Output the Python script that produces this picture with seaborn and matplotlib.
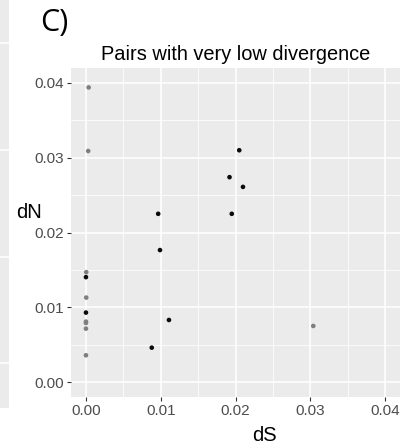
import matplotlib
matplotlib.use("Agg")
import matplotlib.pyplot as plt
import seaborn as sns
import pandas as pd
from matplotlib.patches import Rectangle
from matplotlib.lines import Line2D

# ---- data ----
ds = [0.00036, 0.00030, 0.00004, 0.00004, 0.00000, 0.00000, 0.00000, 0.00000, 0.03040,
      0.00000, 0.00000, 0.00966, 0.00990, 0.01110, 0.00880, 0.02050, 0.01920, 0.02100, 0.01950]
dn = [0.03940, 0.03090, 0.01470, 0.01130, 0.00808, 0.00790, 0.00714, 0.00358, 0.00750,
      0.01403, 0.00929, 0.02250, 0.01765, 0.00830, 0.00460, 0.03100, 0.02740, 0.02610, 0.02250]
shade = ["light"] * 9 + ["dark"] * 10

x_ticks = [0.00, 0.01, 0.02, 0.03, 0.04]
y_ticks = [0.00, 0.01, 0.02, 0.03, 0.04]
tick_labels = ["0.00", "0.01", "0.02", "0.03", "0.04"]

df = pd.DataFrame({"dS": ds, "dN": dn, "shade": shade})

W, H = 417, 448
fig = plt.figure(figsize=(W / 100, H / 100), dpi=100)
fig.patch.set_facecolor("white")

# strip of the neighbouring panel at the left edge
fig.add_artist(Rectangle((0, 1 - 408 / H), 9 / W, 408 / H, transform=fig.transFigure,
                         facecolor="#EBEBEB", edgecolor="none"))
for yy in [43, 150, 257, 363]:
    fig.add_artist(Line2D([0, 9 / W], [1 - yy / H, 1 - yy / H], transform=fig.transFigure,
                          color="white", lw=1.1))

ax = fig.add_axes([71 / W, 1 - 397 / H, 329 / W, 329 / H])
ax.set_facecolor("#EBEBEB")
for s in ax.spines.values():
    s.set_visible(False)

ax.set_xlim(-0.002, 0.042)
ax.set_ylim(-0.002, 0.042)
ax.set_xticks(x_ticks)
ax.set_yticks(y_ticks)
ax.set_xticklabels(tick_labels)
ax.set_yticklabels(tick_labels)
minor = [0.005, 0.015, 0.025, 0.035]
ax.set_xticks(minor, minor=True)
ax.set_yticks(minor, minor=True)
ax.grid(True, which="major", color="white", lw=1.1)
ax.grid(True, which="minor", color="white", lw=0.55)
ax.set_axisbelow(True)
ax.tick_params(axis="both", which="major", length=3, width=0.8, color="#333333",
               labelcolor="#4D4D4D", labelsize=11, pad=2)
ax.tick_params(axis="both", which="minor", length=0)
for lab in ax.get_xticklabels() + ax.get_yticklabels():
    lab.set_family("Liberation Sans")

sns.scatterplot(data=df, x="dS", y="dN", hue="shade",
                palette={"light": "#7F7F7F", "dark": "#0A0A0A"},
                s=11, linewidth=0, legend=False, ax=ax)
ax.set_xlabel("")
ax.set_ylabel("")

fig.text(264 / W, 1 - 435 / H, "dS", ha="center", va="center", fontsize=14.5,
         family="Liberation Sans", color="black")
fig.text(29 / W, 1 - 212 / H, "dN", ha="center", va="center", fontsize=14.5,
         family="Liberation Sans", color="black")
fig.text(236 / W, 1 - 54 / H, "Pairs with very low divergence", ha="center", va="center",
         fontsize=14.4, family="Liberation Sans", color="black")
fig.text(40 / W, 1 - 23 / H, "C)", ha="left", va="center", fontsize=22,
         family="Open Sans", color="black")

fig.savefig("out.png", dpi=100)
